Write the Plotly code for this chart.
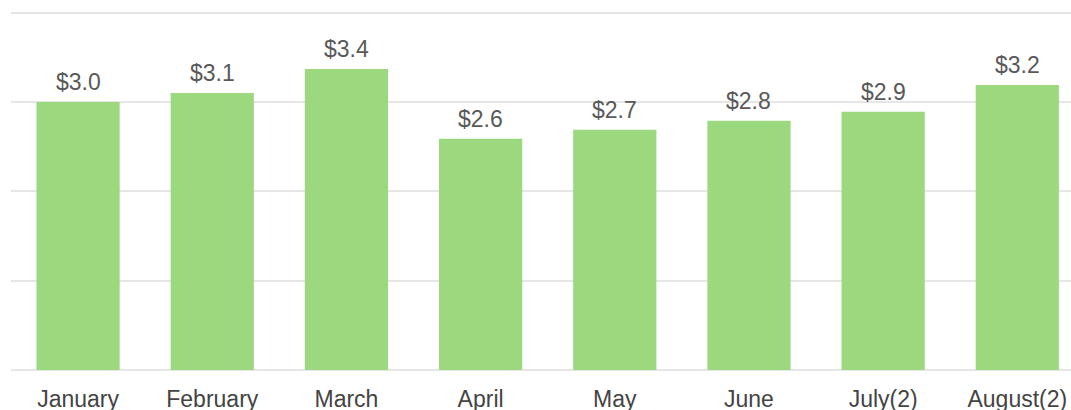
import plotly.graph_objects as go

categories = ["January", "February", "March", "April", "May", "June", "July(2)", "August(2)"]
values = [3.0, 3.1, 3.37, 2.59, 2.69, 2.79, 2.89, 3.19]
labels = ["$3.0", "$3.1", "$3.4", "$2.6", "$2.7", "$2.8", "$2.9", "$3.2"]

fig = go.Figure()
fig.add_trace(go.Bar(
    x=categories, y=values,
    marker=dict(color="#9CD87D", line=dict(width=0)),
    width=0.62,
    hoverinfo="skip",
))
for c, v, t in zip(categories, values, labels):
    fig.add_annotation(x=c, y=v, text=t, showarrow=False, yanchor="bottom",
                       yshift=5, font=dict(family="Liberation Sans, Arial", size=23, color="#595959"))

fig.update_layout(
    template="none",
    width=1071, height=410,
    margin=dict(l=11, r=0, t=10, b=40, pad=0),
    paper_bgcolor="white", plot_bgcolor="white",
    showlegend=False,
    font=dict(family="Liberation Sans, Arial", size=23, color="#444444"),
    xaxis=dict(range=[-0.5, 7.4], showgrid=False, showline=False, zeroline=False,
               automargin=False,
               ticks="outside", ticklen=8, tickcolor="rgba(0,0,0,0)",
               tickfont=dict(size=23, color="#444444")),
    yaxis=dict(range=[0, 4.03], dtick=1, showgrid=True, gridcolor="#E6E6E6", gridwidth=1.5,
               zeroline=True, zerolinecolor="#E6E6E6", zerolinewidth=1.5,
               automargin=False,
               showticklabels=False, ticks=""),
)
fig.write_html("out.html")
